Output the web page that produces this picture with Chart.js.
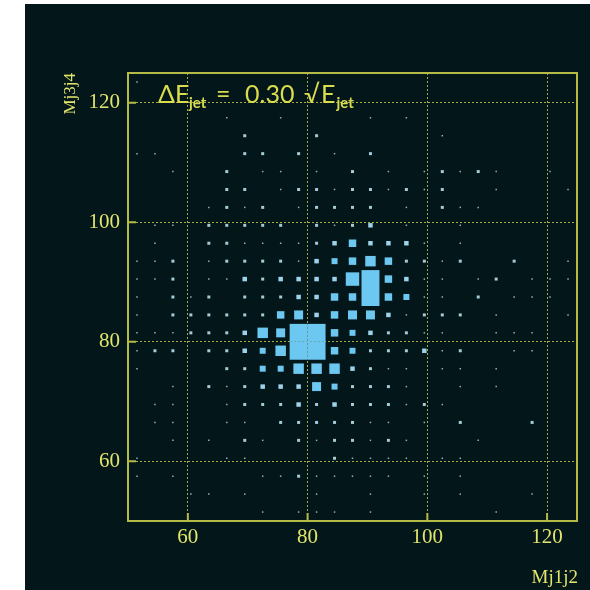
<!DOCTYPE html>
<html>
<head>
<meta charset="utf-8">
<script src="https://cdn.jsdelivr.net/npm/chart.js@4.4.0/dist/chart.umd.min.js"></script>
<style>
    html, body { margin: 0; padding: 0; background: #ffffff; }
    #wrap { position: absolute; left: 25px; top: 4px; width: 565px; height: 586px; background: #03161a; }
    canvas { display: block; }
</style>
</head>
<body>
<div id="wrap"><canvas id="massPlot"></canvas></div>
<script>
// bin centres (GeV), 3 GeV bins from 50 to 125
const xBins = [51.5, 54.5, 57.5, 60.5, 63.5, 66.5, 69.5, 72.5, 75.5, 78.5, 81.5, 84.5, 87.5,
               90.5, 93.5, 96.5, 99.5, 102.5, 105.5, 108.5, 111.5, 114.5, 117.5, 120.5, 123.5];
// rows of counts go from top (123.5) to bottom (51.5)
const yBins = [123.5, 120.5, 117.5, 114.5, 111.5, 108.5, 105.5, 102.5, 99.5, 96.5, 93.5, 90.5, 87.5,
               84.5, 81.5, 78.5, 75.5, 72.5, 69.5, 66.5, 63.5, 60.5, 57.5, 54.5, 51.5];
const binWidth = 3;
const maxCount = 12;

const counts = [
    [1,0,0,0,0,0,0,0,0,0,0,0,0,0,0,0,0,0,0,0,0,0,0,0,0],
    [0,0,0,0,0,0,0,0,0,0,0,0,0,0,0,0,0,0,0,0,0,0,0,0,0],
    [0,0,0,0,0,1,0,0,1,0,0,0,0,1,0,1,0,0,0,0,0,0,0,0,0],
    [0,0,0,0,0,0,2,0,0,0,2,0,0,0,0,0,0,1,0,0,0,0,0,0,0],
    [1,1,0,0,0,0,2,2,0,2,0,1,0,2,0,0,0,0,0,0,0,0,0,0,0],
    [0,0,1,0,0,2,0,1,1,0,1,0,2,0,1,0,1,2,1,2,1,0,0,1,0],
    [0,0,0,0,0,2,2,0,1,2,2,1,2,2,1,2,1,2,0,0,1,0,0,0,1],
    [0,0,0,0,1,2,1,2,0,1,2,2,2,2,0,1,0,2,1,1,0,0,0,0,0],
    [0,1,1,0,2,2,2,2,2,0,2,1,2,3,0,1,0,0,1,0,0,0,0,0,0],
    [0,1,0,0,2,2,1,1,1,1,2,3,5,3,3,3,1,0,1,0,0,0,0,0,0],
    [1,1,2,0,1,2,2,2,2,1,3,4,5,7,5,2,2,1,2,0,0,2,0,0,1],
    [1,1,2,0,1,1,3,2,3,3,3,3,9,12,5,3,1,1,0,1,2,0,1,1,1],
    [1,0,2,1,2,0,2,2,2,3,3,5,5,12,5,4,1,1,0,2,0,1,1,1,0],
    [1,0,2,2,2,2,2,2,5,6,3,5,6,6,3,1,2,2,2,0,1,0,0,0,1],
    [1,1,1,2,2,2,3,7,6,12,12,5,4,3,2,2,1,1,0,0,1,1,1,0,0],
    [1,2,2,0,2,2,3,4,7,12,12,5,4,2,2,2,3,1,2,0,0,1,1,0,0],
    [1,0,0,0,0,2,2,4,4,7,7,7,3,2,1,1,0,1,1,0,1,0,0,0,0],
    [0,0,1,0,2,1,2,3,3,3,6,4,2,2,2,1,0,0,1,0,1,0,0,0,0],
    [0,1,1,0,0,1,2,2,2,3,2,3,2,2,2,1,2,1,0,0,0,0,0,0,0],
    [0,1,1,0,0,1,1,0,2,2,2,2,2,1,1,0,1,0,2,0,0,0,2,0,0],
    [0,0,1,0,1,0,2,1,0,2,1,2,2,1,2,1,0,0,0,1,0,0,0,0,0],
    [1,0,0,0,0,1,1,0,0,0,0,2,1,1,1,1,0,1,1,0,0,0,0,0,0],
    [1,0,1,0,0,0,0,1,1,2,1,1,1,1,1,0,1,0,1,0,0,0,0,0,0],
    [0,0,0,1,1,0,1,0,0,0,1,0,0,1,0,0,1,0,1,0,0,0,1,0,0],
    [0,0,0,0,0,0,0,1,0,1,1,1,0,1,0,0,0,0,0,0,1,0,0,0,0]
];

const xTicks = [60, 80, 100, 120];
const yTicks = [60, 80, 100, 120];
const xTitle = 'Mj1j2';
const yTitle = 'Mj3j4';

const frameColor = '#b6ba46';
const gridColor = '#a8ab40';
const labelColor = '#e2e56c';
const serif = "'Liberation Serif', 'DejaVu Serif', serif";
const sans = "Lato, 'DejaVu Sans', sans-serif";

// flatten the 2D histogram into points for a scatter dataset
const cells = [];
counts.forEach((row, r) => {
    row.forEach((v, c) => {
        if (v > 0) cells.push({ x: xBins[c], y: yBins[r], v: v });
    });
});

function boxRadius(ctx) {
    const xs = ctx.chart.scales.x;
    const cellPx = Math.abs(xs.getPixelForValue(binWidth) - xs.getPixelForValue(0));
    const side = ctx.raw.v / maxCount * cellPx;
    return side / Math.SQRT2;  // 'rect' point style side = radius * sqrt(2)
}

// tiny boxes look washed out (greyish) in the original, big ones light blue
function boxColor(ctx) {
    const v = ctx.raw.v;
    if (v <= 1) return '#8fb3bf';
    if (v <= 2) return '#a6cad6';
    if (v <= 3) return '#9dd3ea';
    return '#6cc8f0';
}

// frame, inward tick marks, axis titles and the resolution label
const decorations = {
    id: 'decorations',
    afterDraw(chart) {
        const ctx = chart.ctx;
        const a = chart.chartArea;
        const xs = chart.scales.x, ys = chart.scales.y;
        ctx.save();
        ctx.strokeStyle = frameColor;
        ctx.lineWidth = 2;
        ctx.strokeRect(a.left, a.top, a.right - a.left, a.bottom - a.top);
        ctx.beginPath();
        xTicks.forEach(v => {
            const px = xs.getPixelForValue(v);
            ctx.moveTo(px, a.bottom);
            ctx.lineTo(px, a.bottom - 8);
        });
        yTicks.forEach(v => {
            const py = ys.getPixelForValue(v);
            ctx.moveTo(a.left, py);
            ctx.lineTo(a.left + 8, py);
        });
        ctx.stroke();

        // axis titles
        ctx.fillStyle = labelColor;
        ctx.font = '19px ' + serif;
        ctx.textAlign = 'right';
        ctx.textBaseline = 'alphabetic';
        ctx.fillText(xTitle, a.right + 1, 579);

        ctx.save();
        ctx.translate(50, a.top);
        ctx.rotate(-Math.PI / 2);
        ctx.font = '17px ' + serif;
        ctx.textAlign = 'right';
        ctx.fillText(yTitle, 0, 0);
        ctx.restore();

        // ΔE_jet = 0.30 √E_jet
        const x0 = a.left + 30, base = a.top + 30;
        const big = '25px ' + sans, sub = 'bold 15px ' + sans;
        ctx.fillStyle = '#d8dc4e';
        ctx.textAlign = 'left';
        ctx.font = big;
        ctx.fillText('ΔE', x0, base);
        ctx.font = sub;
        ctx.fillText('jet', x0 + 31, base + 5);
        ctx.font = big;
        ctx.fillText('=', x0 + 58, base);
        ctx.fillText('0.30', x0 + 87, base);
        ctx.fillText('√', x0 + 146, base);
        ctx.fillText('E', x0 + 163, base);
        const eEnd = x0 + 163 + ctx.measureText('E').width;
        ctx.font = sub;
        ctx.fillText('jet', eEnd + 1, base + 5);
        ctx.restore();
    }
};

new Chart(document.getElementById('massPlot'), {
    type: 'scatter',
    data: {
        datasets: [{
            label: 'Mj3j4 vs Mj1j2',
            data: cells,
            pointStyle: 'rect',
            pointRadius: boxRadius,
            pointHoverRadius: boxRadius,
            backgroundColor: boxColor,
            borderWidth: 0
        }]
    },
    options: {
        responsive: true,
        maintainAspectRatio: false,
        animation: false,
        events: [],
        layout: { padding: { left: 0, right: 13, top: 69, bottom: 0 } },
        plugins: {
            legend: { display: false },
            tooltip: { enabled: false }
        },
        scales: {
            x: {
                type: 'linear',
                min: 50,
                max: 125,
                afterFit: s => { s.height = 69; },
                afterBuildTicks: s => { s.ticks = xTicks.map(v => ({ value: v })); },
                grid: { color: gridColor, lineWidth: 1, drawTicks: false },
                border: { display: false, dash: [2, 2] },
                ticks: {
                    color: labelColor,
                    font: { family: serif, size: 21 },
                    padding: 4,
                    maxRotation: 0,
                    autoSkip: false
                }
            },
            y: {
                type: 'linear',
                min: 50,
                max: 125,
                afterFit: s => { s.width = 103; },
                afterBuildTicks: s => { s.ticks = yTicks.map(v => ({ value: v })); },
                grid: { color: gridColor, lineWidth: 1, drawTicks: false },
                border: { display: false, dash: [2, 2] },
                ticks: {
                    color: labelColor,
                    font: { family: serif, size: 21 },
                    padding: 8,
                    autoSkip: false
                }
            }
        }
    },
    plugins: [decorations]
});
</script>
</body>
</html>
